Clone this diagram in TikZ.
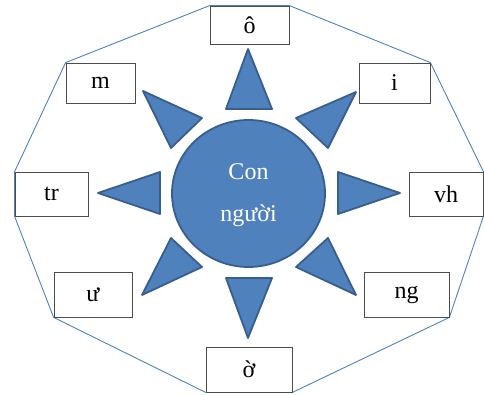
\documentclass[tikz,border=0pt]{standalone}
\usepackage{fontspec}
\setmainfont{Liberation Serif}
\usetikzlibrary{shapes.geometric,backgrounds}
\definecolor{sunfill}{HTML}{4F81BD}
\definecolor{sunedge}{HTML}{375E8E}
\definecolor{octline}{HTML}{4F81BD}
\tikzset{
  lbox/.style={draw=black!70, line width=0.8pt, fill=white, inner sep=0pt,
    font=\fontsize{24}{28}\selectfont},
  ray/.style={fill=sunfill, draw=sunedge, line width=1.8pt, line join=round},
  octo/.style={draw=octline, line width=0.9pt}
}
\begin{document}
\begin{tikzpicture}[x=1pt,y=-1pt]
\useasboundingbox (0,0) rectangle (484,395);
% label boxes
\node[lbox, minimum width=79pt, minimum height=38pt] (o)  at (249.5,25)  {ô};
\node[lbox, minimum width=69pt, minimum height=40pt] (m)  at (100.5,83)  {m};
\node[lbox, minimum width=71pt, minimum height=40pt] (i)  at (394.5,83)  {i};
\node[lbox, minimum width=73pt, minimum height=44pt] (tr) at (51.5,194)  {tr};
\node[lbox, minimum width=74pt, minimum height=44pt] (vh) at (446,194)   {vh};
\node[lbox, minimum width=78pt, minimum height=45pt] (u)  at (93,294.5)  {ư};
\node[lbox, minimum width=85pt, minimum height=45pt] (ng) at (406.5,294.5) {ng};
\node[lbox, minimum width=86pt, minimum height=45pt] (bo) at (249,369.5) {ờ};
% octagon frame
\begin{scope}[on background layer]
\draw[octo] (o.north west) -- (o.north east) -- (i.north east) -- (vh.north east)
  -- (vh.south east) -- (ng.south east) -- (bo.south east) -- (bo.south west)
  -- (u.south west) -- (tr.south west) -- (tr.north west) -- (m.north west) -- cycle;
\end{scope}
% sun rays
\draw[ray] (226,109) -- (248,49) -- (272,109) -- cycle;
\draw[ray] (226,278) -- (248,338) -- (272,278) -- cycle;
\draw[ray] (160,172) -- (98,193) -- (160,214) -- cycle;
\draw[ray] (338,172) -- (400,193) -- (338,214) -- cycle;
\draw[ray] (202,118) -- (143,91) -- (171,148) -- cycle;
\draw[ray] (296,118) -- (356,92) -- (328,148) -- cycle;
\draw[ray] (171,238) -- (142,295) -- (202,267) -- cycle;
\draw[ray] (328,238) -- (356,295) -- (296,267) -- cycle;
% centre
\node[ellipse, fill=sunfill, draw=sunedge, line width=1.8pt,
  minimum width=153pt, minimum height=147pt, inner sep=0pt] (c) at (248.5,193.5) {};
\node[text=white, align=center, font=\fontsize{24}{42}\selectfont] (ct)
  at (248.5,195.5) {Con\\người};
\end{tikzpicture}
\end{document}
